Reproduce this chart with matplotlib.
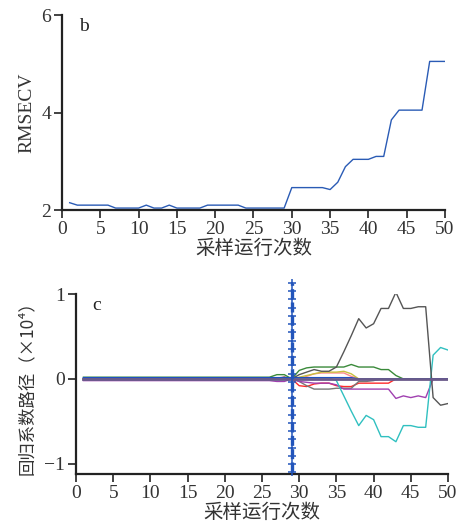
import numpy as np
import matplotlib
matplotlib.use("Agg")
import matplotlib.pyplot as plt

plt.rcParams['font.family'] = ['Liberation Serif', 'Noto Sans CJK SC', 'DejaVu Sans']

# ---------------- data ----------------
runs = list(range(1, 51))
rmsecv = [2.15, 2.10, 2.10, 2.10, 2.10, 2.10, 2.04, 2.04, 2.04, 2.04,
          2.10, 2.04, 2.04, 2.10, 2.04, 2.04, 2.04, 2.04, 2.10, 2.10,
          2.10, 2.10, 2.10, 2.04, 2.04, 2.04, 2.04, 2.04, 2.04, 2.46,
          2.46, 2.46, 2.46, 2.46, 2.42, 2.57, 2.89, 3.04, 3.04, 3.04,
          3.10, 3.10, 3.85, 4.05, 4.05, 4.05, 4.05, 5.05, 5.05, 5.05]

best_run = 29

coef_gray1 = [0.0]*26 + [0.01, 0.02, 0.0, 0.05, 0.08, 0.11, 0.09, 0.09, 0.14, 0.32,
                         0.51, 0.71, 0.60, 0.65, 0.83, 0.83, 1.02, 0.83, 0.83, 0.85,
                         0.85, -0.22, -0.31, -0.29]
coef_gray2 = [0.0]*29 + [-0.03, -0.08, -0.12, -0.12, -0.12, -0.11, -0.11, -0.11, -0.03,
                         -0.03, -0.02] + [0.0]*10
coef_cyan = [0.01]*34 + [-0.02, -0.20, -0.38, -0.55, -0.43, -0.48, -0.68, -0.68, -0.74,
                         -0.55, -0.55, -0.57, -0.57, 0.28, 0.37, 0.34]
coef_green = [0.02]*26 + [0.05, 0.05, 0.0, 0.10, 0.13, 0.14, 0.14, 0.14, 0.14, 0.14,
                          0.17, 0.14, 0.14, 0.14, 0.11, 0.11, 0.04] + [0.0]*7
coef_purple = [-0.02]*26 + [-0.03, -0.03, 0.0, -0.03, -0.04, -0.05, -0.05, -0.05, -0.07,
                            -0.12, -0.12, -0.12, -0.12, -0.12, -0.12, -0.12, -0.23, -0.20,
                            -0.22, -0.20, -0.22] + [0.0]*3
coef_red = [0.0]*27 + [0.02, 0.0, -0.08, -0.09, -0.06, -0.05, -0.05, -0.08, -0.09, -0.09,
                       -0.05, -0.05, -0.05, -0.05, -0.05] + [0.0]*8
coef_salmon = [0.0]*30 + [0.03, 0.06, 0.07, 0.07, 0.07, 0.07, 0.03] + [0.0]*13
coef_yellow = [0.0]*29 + [0.02, 0.04, 0.06, 0.08, 0.08, 0.08, 0.09, 0.06] + [0.0]*13
coef_blue = [0.015]*37 + [0.0]*13
coef_base = [0.0]*50

series = [
    (coef_salmon, '#ff8a8a'),
    (coef_yellow, '#c8c040'),
    (coef_red, '#ff2a2a'),
    (coef_gray2, '#777777'),
    (coef_green, '#3a8a3a'),
    (coef_purple, '#a040b0'),
    (coef_cyan, '#30c0c0'),
    (coef_gray1, '#555555'),
    (coef_blue, '#2050c0'),
]

# ---------------- figure ----------------
fig = plt.figure(figsize=(4.62, 5.29), dpi=100)
ax1 = fig.add_axes([0.1342, 0.603, 0.829, 0.3684])
ax2 = fig.add_axes([0.1645, 0.104, 0.8052, 0.3402])

for ax in (ax1, ax2):
    ax.spines['top'].set_visible(False)
    ax.spines['right'].set_visible(False)
    ax.spines['left'].set_linewidth(1.6)
    ax.spines['bottom'].set_linewidth(1.6)
    ax.spines['left'].set_color('#222222')
    ax.spines['bottom'].set_color('#222222')
    ax.tick_params(direction='out', length=6, width=1.2, labelsize=14,
                   colors='#222222', labelcolor='#333333', pad=2)
    ax.set_xlim(0, 50)
    ax.set_xticks(range(0, 51, 5))

# top panel
ax1.plot(runs, rmsecv, color='#2a5bb5', lw=1.0)
ax1.set_ylim(2, 6)
ax1.set_yticks([2, 4, 6])
ax1.set_ylabel('RMSECV', fontsize=14, color='#333333', labelpad=4)
ax1.set_xlabel('采样运行次数', fontsize=14, color='#333333', labelpad=1)
ax1.text(0.045, 0.985, 'b', transform=ax1.transAxes, fontsize=14,
         va='top', ha='left', color='#222222')

# bottom panel
for vals, col in series:
    ax2.plot(runs, vals, color=col, lw=1.0)
ax2.plot(runs, coef_base, color='#6a5a8a', lw=2.0)

vy = np.linspace(-1.1, 1.13, 24)
ax2.plot([best_run]*len(vy), vy, color='#2255bb', lw=2.4, ls=(0, (3, 1)),
         marker='+', ms=6, mew=1.1, clip_on=False, zorder=5)

ax2.set_ylim(-1.12, 1.0)
ax2.set_yticks([-1, 0, 1])
ax2.set_yticklabels(['\u22121', '0', '1'])
ax2.set_ylabel('回归系数路径（×10⁴）', fontsize=12.5, color='#333333', labelpad=6,
               family=['Noto Sans CJK SC', 'Liberation Serif', 'DejaVu Sans'])
ax2.set_xlabel('采样运行次数', fontsize=14, color='#333333', labelpad=1)
ax2.text(0.045, 0.985, 'c', transform=ax2.transAxes, fontsize=14,
         va='top', ha='left', color='#222222')

fig.savefig('out.png', dpi=100)
